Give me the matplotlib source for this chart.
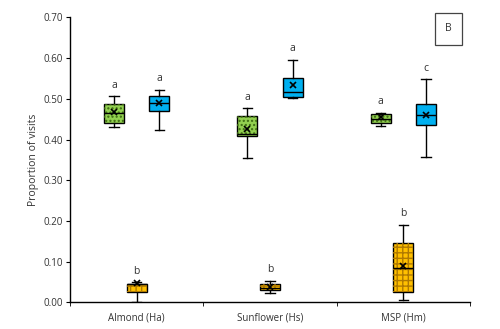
import matplotlib
matplotlib.use("Agg")
import matplotlib.pyplot as plt
from matplotlib.patches import PathPatch

plt.rcParams['font.family'] = ['Open Sans', 'DejaVu Sans']

# categories (x axis) and the three series
categories = ['Almond (Ha)', 'Sunflower (Hs)', 'MSP (Hm)']

# green series (left box)
green_lo = [0.430, 0.354, 0.433]
green_q1 = [0.440, 0.409, 0.440]
green_med = [0.466, 0.414, 0.451]
green_q3 = [0.488, 0.459, 0.462]
green_hi = [0.506, 0.477, 0.466]
green_mean = [0.467, 0.426, 0.455]
green_letters = ['a', 'a', 'a']

# blue series (right box)
blue_lo = [0.423, 0.501, 0.358]
blue_q1 = [0.469, 0.505, 0.436]
blue_med = [0.489, 0.517, 0.460]
blue_q3 = [0.508, 0.551, 0.487]
blue_hi = [0.522, 0.595, 0.548]
blue_mean = [0.490, 0.534, 0.460]
blue_letters = ['a', 'a', 'c']

# yellow series (centre box)
yellow_lo = [0.000, 0.022, 0.007]
yellow_q1 = [0.026, 0.031, 0.026]
yellow_med = [0.044, 0.036, 0.084]
yellow_q3 = [0.046, 0.045, 0.145]
yellow_hi = [0.049, 0.053, 0.190]
yellow_mean = [0.047, 0.038, 0.089]
yellow_letters = ['b', 'b', 'b']

series = [
    (-0.17, '#92D050', '#3d6b12', '....', green_lo, green_q1, green_med, green_q3, green_hi, green_mean, green_letters),
    (0.0, '#FFC000', '#b07a00', '+++', yellow_lo, yellow_q1, yellow_med, yellow_q3, yellow_hi, yellow_mean, yellow_letters),
    (0.17, '#00B0F0', None, None, blue_lo, blue_q1, blue_med, blue_q3, blue_hi, blue_mean, blue_letters),
]

fig = plt.figure(figsize=(5, 3.29), dpi=100)
ax = fig.add_axes([0.14, 0.081, 0.80, 0.866])

for off, color, hcolor, hatch, lo, q1, med, q3, hi, mean, letters in series:
    stats = []
    for i in range(len(categories)):
        stats.append({'whislo': lo[i], 'q1': q1[i], 'med': med[i], 'q3': q3[i],
                      'whishi': hi[i], 'mean': mean[i], 'fliers': []})
    pos = [i + off for i in range(len(categories))]
    bp = ax.bxp(stats, positions=pos, widths=0.15, capwidths=0.07,
                showmeans=True, patch_artist=True, manage_ticks=False,
                boxprops=dict(facecolor=color, edgecolor='black', linewidth=1.0),
                medianprops=dict(color='black', linewidth=1.0, zorder=3),
                whiskerprops=dict(color='black', linewidth=1.0),
                capprops=dict(color='black', linewidth=1.0),
                meanprops=dict(marker='x', markeredgecolor='black', markersize=4.5,
                               markeredgewidth=1.2, zorder=4))
    if hatch:
        for b in bp['boxes']:
            ax.add_patch(PathPatch(b.get_path(), facecolor='none', edgecolor=hcolor,
                                   hatch=hatch, linewidth=0, zorder=2.05))
    for i in range(len(categories)):
        ax.text(pos[i], hi[i] + 0.014, letters[i], ha='center', va='bottom',
                fontsize=7.5, color='#333333')

ax.set_xlim(-0.5, 2.5)
ax.set_ylim(0, 0.70)
ax.set_yticks([0.0, 0.1, 0.2, 0.3, 0.4, 0.5, 0.6, 0.7])
ax.set_yticklabels(['%.2f' % v for v in ax.get_yticks()], fontsize=7, color='#333333')
ax.set_xticks(range(len(categories)))
ax.set_xticklabels(categories, fontsize=7, color='#333333')
ax.tick_params(axis='x', length=0, pad=7)
ax.set_xticks([-0.5, 0.5, 1.5, 2.5], minor=True)
ax.tick_params(axis='x', which='minor', length=3, direction='out')
ax.tick_params(axis='y', length=3, direction='out', pad=2)
ax.set_ylabel('Proportion of visits', fontsize=7.5, color='#333333', labelpad=3)

for s in ['top', 'right']:
    ax.spines[s].set_visible(False)
ax.spines['left'].set_linewidth(1.0)
ax.spines['bottom'].set_linewidth(1.0)

fig.text(0.897, 0.913, 'B', ha='center', va='center', fontsize=7.5, color='#333333',
         bbox=dict(boxstyle='square,pad=1.0', facecolor='white', edgecolor='#444444', linewidth=0.9))

fig.savefig('out.png', dpi=100)
